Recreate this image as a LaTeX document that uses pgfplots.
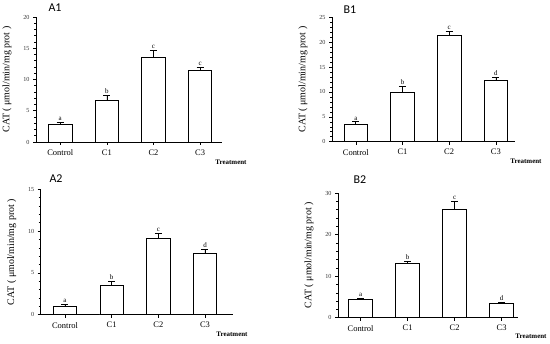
\documentclass[border=0pt]{standalone}
\usepackage{fontspec}
\setmainfont{Liberation Serif}
\newfontfamily\titlefont{Carlito}
\usepackage{pgfplots}
\usepackage{pgfplotstable}
\pgfplotsset{compat=1.18}

\pgfplotstableread{
x y ey lab
0 2.8 0.35 a
1 6.7 0.8 b
2 13.55 1.05 c
3 11.4 0.5 c
}\dataAone
\pgfplotstableread{
x y ey lab
0 3.5 0.5 a
1 10.0 1.1 b
2 21.4 0.8 c
3 12.35 0.65 d
}\dataBone
\pgfplotstableread{
x y ey lab
0 1.0 0.24 a
1 3.55 0.48 b
2 9.17 0.56 c
3 7.34 0.44 d
}\dataAtwo
\pgfplotstableread{
x y ey lab
0 4.3 0.35 a
1 13.1 0.5 b
2 26.05 1.95 c
3 3.37 0.4 d
}\dataBtwo

\pgfplotsset{
  catstyle/.style={
    scale only axis, anchor=south west, clip=false,
    axis x line*=bottom, axis y line*=left,
    axis line style={-, black, line width=0.6pt},
    ymin=0,
    xtick={0,1,2,3}, xticklabels={Control,C1,C2,C3},
    tick align=outside, major tick length=3bp, minor tick length=2bp,
    tick style={black, line width=0.5pt},
    minor y tick num=4,
    /pgf/number format/assume math mode=true,
    x tick label style={font=\fontsize{8.5}{9}\selectfont, yshift=-1bp},
    y tick label style={font=\fontsize{6.2}{7}\selectfont, black!80},
    ylabel={CAT ( μmol/min/mg prot )},
    ylabel style={font=\fontsize{8}{9}\selectfont, black!80},
    every axis y label/.style={at={(axis description cs:0,0.5)}, xshift=-29bp, rotate=90, anchor=center},
  },
  barplot/.style={
    ybar, bar shift=0pt, bar width=0.5, fill=white, draw=black, line width=0.7pt,
    error bars/.cd, y dir=plus, y explicit,
    error bar style={black, line width=0.7pt},
    error mark options={rotate=90, mark size=3.5bp, black, line width=0.7pt},
  },
  letters/.style={
    draw=none, mark=none, nodes near coords, point meta=explicit symbolic,
    every node near coord/.style={anchor=south, inner sep=1.5bp, font=\fontsize{7}{8}\selectfont},
  },
}

\begin{document}
\begin{tikzpicture}
\path[use as bounding box] (0bp,0bp) rectangle (550bp,344bp);

% A1
\begin{axis}[catstyle, at={(36bp,202bp)}, width=186bp, height=125bp,
  xmin=-0.52, xmax=3.47, ymax=20, ytick={0,5,10,15,20}]
\addplot[barplot] table[x=x, y=y, y error=ey] {\dataAone};
\addplot[letters] table[x=x, y expr=\thisrow{y}+\thisrow{ey}, meta=lab] {\dataAone};
\end{axis}

% B1
\begin{axis}[catstyle, at={(332bp,202.3bp)}, width=183bp, height=124.4bp,
  xmin=-0.51, xmax=3.41, ymax=25, ytick={0,5,10,15,20,25}]
\addplot[barplot] table[x=x, y=y, y error=ey] {\dataBone};
\addplot[letters] table[x=x, y expr=\thisrow{y}+\thisrow{ey}, meta=lab] {\dataBone};
\end{axis}

% A2
\begin{axis}[catstyle, at={(40.7bp,29.3bp)}, width=192.3bp, height=125.4bp,
  xmin=-0.52, xmax=3.6, ymax=15, ytick={0,5,10,15}]
\addplot[barplot] table[x=x, y=y, y error=ey] {\dataAtwo};
\addplot[letters] table[x=x, y expr=\thisrow{y}+\thisrow{ey}, meta=lab] {\dataAtwo};
\end{axis}

% B2
\begin{axis}[catstyle, at={(338bp,26.3bp)}, width=180bp, height=124.7bp,
  xmin=-0.48, xmax=3.35, ymax=30, ytick={0,10,20,30}]
\addplot[barplot] table[x=x, y=y, y error=ey] {\dataBtwo};
\addplot[letters] table[x=x, y expr=\thisrow{y}+\thisrow{ey}, meta=lab] {\dataBtwo};
\end{axis}

% titles
\node[font=\titlefont\fontsize{12}{12}\selectfont] at (55bp,336bp) {A1};
\node[font=\titlefont\fontsize{12}{12}\selectfont] at (350bp,334bp) {B1};
\node[font=\titlefont\fontsize{12}{12}\selectfont] at (56bp,165bp) {A2};
\node[font=\titlefont\fontsize{12}{12}\selectfont] at (360bp,164bp) {B2};

% Treatment labels
\node[font=\bfseries\fontsize{7}{8}\selectfont] at (231bp,182bp) {Treatment};
\node[font=\bfseries\fontsize{7}{8}\selectfont] at (526bp,183bp) {Treatment};
\node[font=\bfseries\fontsize{7}{8}\selectfont] at (232bp,9.5bp) {Treatment};
\node[font=\bfseries\fontsize{7}{8}\selectfont] at (531bp,8bp) {Treatment};
\end{tikzpicture}
\end{document}
